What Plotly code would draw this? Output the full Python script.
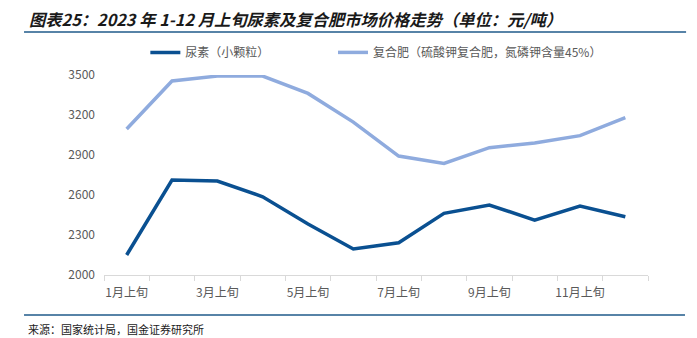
import plotly.graph_objects as go

categories = ["1月上旬", "2月上旬", "3月上旬", "4月上旬", "5月上旬", "6月上旬",
              "7月上旬", "8月上旬", "9月上旬", "10月上旬", "11月上旬", "12月上旬"]
urea = [2150, 2712, 2705, 2587, 2382, 2195, 2242, 2462, 2525, 2412, 2517, 2437]
compound = [3095, 3455, 3492, 3492, 3362, 3147, 2892, 2837, 2955, 2990, 3045, 3180]
urea_name = "尿素（小颗粒）"
compound_name = "复合肥（硫酸钾复合肥，氮磷钾含量45%）"
yticks = [2000, 2300, 2600, 2900, 3200, 3500]

xs = list(range(len(categories)))
font_cjk = "Noto Sans CJK SC"

fig = go.Figure()
fig.add_trace(go.Scatter(x=xs, y=urea, mode="lines", name=urea_name, legend="legend",
                         line=dict(color="#0A5091", width=3.5)))
fig.add_trace(go.Scatter(x=xs, y=compound, mode="lines", name=compound_name, legend="legend2",
                         line=dict(color="#8FABDE", width=3.5)))

legend_common = dict(orientation="h", y=1.113, xanchor="left", yanchor="middle",
                     font=dict(size=12, color="#595959"), bgcolor="rgba(0,0,0,0)")

fig.update_layout(
    width=697, height=338,
    margin=dict(l=104, r=49, t=75, b=63),
    paper_bgcolor="white", plot_bgcolor="white",
    font=dict(family=font_cjk, size=12, color="#595959"),
    showlegend=True,
    legend=dict(x=0.076, **legend_common),
    legend2=dict(x=0.421, **legend_common),
    xaxis=dict(range=[-0.5, len(categories) - 0.5],
               tickvals=xs[::2], ticktext=categories[::2],
               ticks="", showgrid=False, zeroline=False,
               showline=True, linecolor="#D9D9D9", linewidth=1,
               tickfont=dict(size=12, color="#595959"), ticklabelstandoff=7,
               minor=dict(ticks="outside", tickmode="linear", tick0=-0.5, dtick=1,
                          ticklen=5, tickcolor="#D9D9D9", showgrid=False)),
    yaxis=dict(range=[2000, 3500], tickvals=yticks, showgrid=False, zeroline=False,
               showline=False, ticks="", tickfont=dict(size=12, color="#595959"),
               ticklabelstandoff=8),
)

fig.add_annotation(xref="paper", yref="paper", x=-0.142, y=1.2775, xanchor="left", yanchor="middle",
                   text="<b><i>图表25：2023 年 1-12 月上旬尿素及复合肥市场价格走势（单位：元/吨）</i></b>",
                   showarrow=False, font=dict(family=font_cjk, size=16.3, color="#1a1a1a"))
fig.add_annotation(xref="paper", yref="paper", x=-0.143, y=-0.27, xanchor="left", yanchor="middle",
                   text="来源：国家统计局，国金证券研究所",
                   showarrow=False, font=dict(family=font_cjk, size=11, color="#1a1a1a"))

fig.add_shape(type="line", xref="paper", yref="paper", x0=-0.147, x1=1.07, y0=1.215, y1=1.215,
              line=dict(color="#1F5A8A", width=1.5))
fig.add_shape(type="line", xref="paper", yref="paper", x0=-0.147, x1=1.068, y0=-0.2, y1=-0.2,
              line=dict(color="#1F5A8A", width=1.5))

fig.write_html("out.html")
